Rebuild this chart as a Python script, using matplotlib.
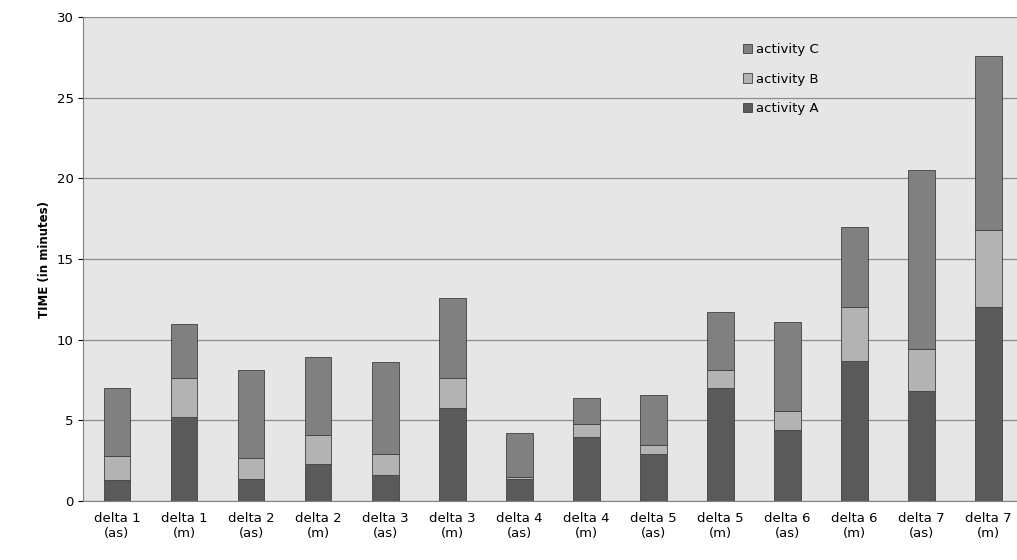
import numpy as np
import matplotlib.pyplot as plt

labels = ["delta 1\n(as)", "delta 1\n(m)", "delta 2\n(as)", "delta 2\n(m)", "delta 3\n(as)",
          "delta 3\n(m)", "delta 4\n(as)", "delta 4\n(m)", "delta 5\n(as)", "delta 5\n(m)",
          "delta 6\n(as)", "delta 6\n(m)", "delta 7\n(as)", "delta 7\n(m)"]
activity_a = [1.3, 5.2, 1.4, 2.3, 1.6, 5.8, 1.4, 4.0, 2.9, 7.0, 4.4, 8.7, 6.8, 12.0]
activity_b = [1.5, 2.4, 1.3, 1.8, 1.3, 1.8, 0.1, 0.8, 0.6, 1.1, 1.2, 3.3, 2.6, 4.8]
activity_c = [4.2, 3.4, 5.4, 4.8, 5.7, 5.0, 2.7, 1.6, 3.1, 3.6, 5.5, 5.0, 11.1, 10.8]

x = np.arange(len(labels))
a = np.array(activity_a)
b = np.array(activity_b)

fig = plt.figure(figsize=(10.17, 5.6), dpi=100)
ax = fig.add_axes([0.082, 0.105, 0.923, 0.865])
ax.set_facecolor('#e6e6e6')
ax.grid(axis='y', color='#8c8c8c', linewidth=0.9)
ax.set_axisbelow(True)

w = 0.4
ax.bar(x, activity_a, w, color='#5a5a5a', edgecolor='#404040', linewidth=0.6, label='activity A')
ax.bar(x, activity_b, w, bottom=a, color='#b3b3b3', edgecolor='#404040', linewidth=0.6, label='activity B')
ax.bar(x, activity_c, w, bottom=a + b, color='#808080', edgecolor='#404040', linewidth=0.6, label='activity C')

ax.set_xlim(-0.5, 13.5)
ax.set_ylim(0, 30)
ax.set_yticks(range(0, 31, 5))
ax.set_xticks(x)
ax.set_xticklabels(labels, fontsize=9.5)
ax.tick_params(axis='y', labelsize=9.5)
ax.tick_params(axis='x', length=0, pad=8)
ax.set_ylabel('TIME (in minutes)', fontsize=8.5, fontweight='bold')
for s in ['top', 'right']:
    ax.spines[s].set_visible(False)
ax.spines['left'].set_color('#808080')
ax.spines['bottom'].set_color('#808080')

h, l = ax.get_legend_handles_labels()
ax.legend(h[::-1], l[::-1], loc='upper left', bbox_to_anchor=(0.69, 0.97), frameon=False,
          fontsize=9.5, handlelength=0.7, handleheight=0.7, handletextpad=0.3, labelspacing=1.25)

fig.savefig('out.png')
